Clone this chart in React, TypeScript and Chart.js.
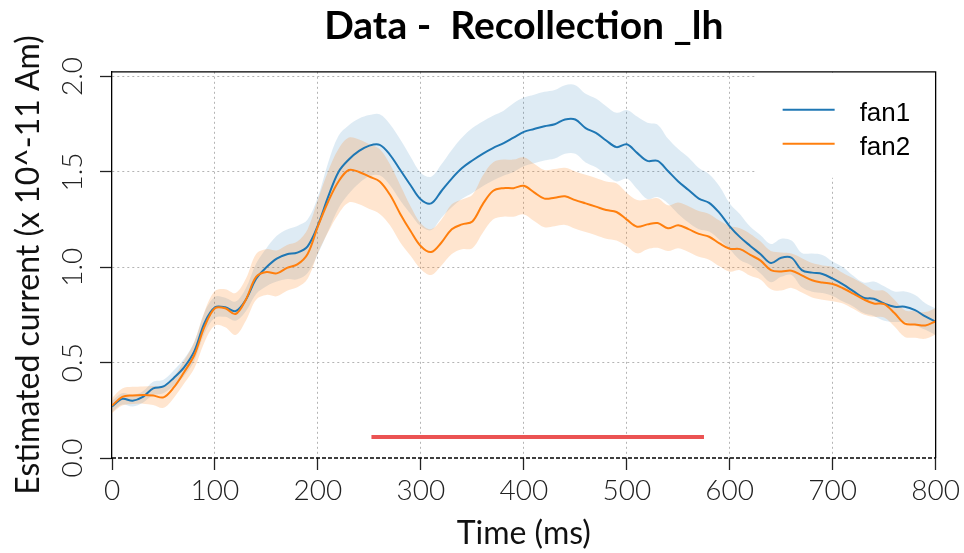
import React, { useEffect, useRef } from "react";
import { Chart, registerables } from "chart.js";

Chart.register(...registerables);

// ---- data ----
const TIME = [
  0, 10, 20, 30, 40, 50, 60, 70, 80, 90, 100, 110, 120, 130, 140, 150, 160, 170, 180, 190,
  200, 210, 220, 230, 240, 250, 260, 270, 280, 290, 300, 310, 320, 330, 340, 350, 360, 370, 380, 390,
  400, 410, 420, 430, 440, 450, 460, 470, 480, 490, 500, 510, 520, 530, 540, 550, 560, 570, 580, 590,
  600, 610, 620, 630, 640, 650, 660, 670, 680, 690, 700, 710, 720, 730, 740, 750, 760, 770, 780, 790, 800,
];

const FAN1 = [
  0.27, 0.31, 0.3, 0.32, 0.365, 0.375, 0.42, 0.475, 0.56, 0.71, 0.79, 0.79, 0.77, 0.83, 0.94, 1.0, 1.045, 1.068, 1.077, 1.11,
  1.22, 1.37, 1.5, 1.565, 1.61, 1.638, 1.642, 1.59, 1.51, 1.43, 1.355, 1.335, 1.4, 1.465, 1.52, 1.56, 1.595, 1.625, 1.65, 1.68,
  1.71, 1.725, 1.74, 1.75, 1.775, 1.775, 1.73, 1.705, 1.665, 1.63, 1.645, 1.6, 1.558, 1.558, 1.505, 1.45, 1.405, 1.36, 1.338, 1.285,
  1.215, 1.158, 1.112, 1.068, 1.022, 1.05, 1.05, 0.985, 0.972, 0.965, 0.94, 0.91, 0.875, 0.84, 0.835, 0.81, 0.793, 0.793, 0.775, 0.742, 0.715,
];

const FAN1_SE = [
  0.03, 0.03, 0.03, 0.03, 0.035, 0.035, 0.04, 0.045, 0.05, 0.055, 0.055, 0.05, 0.05, 0.06, 0.08, 0.1, 0.12, 0.13, 0.14, 0.14,
  0.15, 0.18, 0.19, 0.18, 0.17, 0.16, 0.16, 0.16, 0.16, 0.15, 0.14, 0.14, 0.14, 0.15, 0.16, 0.17, 0.17, 0.17, 0.17, 0.18,
  0.18, 0.18, 0.18, 0.18, 0.18, 0.18, 0.18, 0.18, 0.18, 0.18, 0.18, 0.19, 0.2, 0.19, 0.17, 0.17, 0.17, 0.16, 0.15, 0.14,
  0.12, 0.12, 0.1, 0.1, 0.1, 0.1, 0.09, 0.09, 0.1, 0.1, 0.09, 0.09, 0.08, 0.08, 0.09, 0.09, 0.08, 0.08, 0.08, 0.07, 0.07,
];

const FAN2 = [
  0.275, 0.32, 0.328, 0.33, 0.328, 0.318, 0.37, 0.45, 0.54, 0.69, 0.785, 0.785, 0.755, 0.83, 0.95, 0.975, 0.968, 0.997, 1.015, 1.07,
  1.215, 1.345, 1.45, 1.51, 1.5, 1.475, 1.45, 1.38, 1.28, 1.19, 1.11, 1.08, 1.13, 1.2, 1.225, 1.24, 1.33, 1.4, 1.415, 1.415,
  1.427, 1.393, 1.36, 1.365, 1.372, 1.352, 1.335, 1.318, 1.3, 1.29, 1.25, 1.213, 1.225, 1.232, 1.205, 1.22, 1.2, 1.175, 1.16, 1.125,
  1.097, 1.095, 1.065, 1.035, 0.985, 0.978, 0.982, 0.958, 0.932, 0.92, 0.912, 0.89, 0.862, 0.832, 0.81, 0.807, 0.76, 0.705, 0.7, 0.695, 0.717,
];

const FAN2_SE = [
  0.04, 0.045, 0.045, 0.045, 0.05, 0.055, 0.055, 0.06, 0.07, 0.08, 0.09, 0.1, 0.11, 0.11, 0.12, 0.12, 0.12, 0.12, 0.12, 0.13,
  0.14, 0.16, 0.17, 0.17, 0.17, 0.17, 0.17, 0.16, 0.15, 0.13, 0.12, 0.12, 0.12, 0.13, 0.13, 0.14, 0.15, 0.15, 0.15, 0.15,
  0.15, 0.15, 0.15, 0.15, 0.15, 0.15, 0.15, 0.15, 0.15, 0.15, 0.14, 0.14, 0.13, 0.13, 0.12, 0.12, 0.12, 0.12, 0.12, 0.12,
  0.12, 0.11, 0.11, 0.1, 0.1, 0.1, 0.09, 0.09, 0.09, 0.09, 0.09, 0.08, 0.08, 0.08, 0.07, 0.07, 0.07, 0.07, 0.07, 0.07, 0.07,
];

const SERIES_NAMES = ["fan1", "fan2"];
const SIG_START = 252;
const SIG_END = 575;
const SIG_LEVEL = 0.11;
const X_TICKS = [0, 100, 200, 300, 400, 500, 600, 700, 800];
const Y_TICKS = [0, 0.5, 1.0, 1.5, 2.0];

const TITLE = "Data -  Recollection _lh";
const X_TITLE = "Time (ms)";
const Y_TITLE = "Estimated current (x 10^-11 Am)";

// ---- styles ----
const BLUE = "#1f77b4";
const ORANGE = "#ff7f0e";
const BLUE_FILL = "rgba(31,119,180,0.15)";
const ORANGE_FILL = "rgba(255,127,14,0.2)";
const RED = "#eb5353";
const GRID = "#b4b4b4";
const CLEAR = "rgba(0,0,0,0)";

export default function App() {
  const ref = useRef<HTMLCanvasElement | null>(null);

  useEffect(() => {
    if (!ref.current) return;
    const band = (vals: number[], se: number[], sign: number) =>
      TIME.map((t, i) => ({ x: t, y: vals[i] + sign * se[i] }));
    const line = (vals: number[]) => TIME.map((t, i) => ({ x: t, y: vals[i] }));

    const deco = {
      id: "deco",
      beforeDatasetsDraw(chart: any) {
        const { ctx, chartArea: a } = chart;
        ctx.save();
        ctx.fillStyle = "#ffffff";
        ctx.fillRect(a.right - 179, a.top + 1, 178, 105);
        ctx.restore();
      },
      afterDatasetsDraw(chart: any) {
        const { ctx, chartArea: a } = chart;
        ctx.save();
        const colors = [BLUE, ORANGE];
        const rows = [38, 72];
        SERIES_NAMES.forEach((name, i) => {
          const y = a.top + rows[i];
          ctx.strokeStyle = colors[i];
          ctx.lineWidth = 2;
          ctx.beginPath();
          ctx.moveTo(a.right - 153, y);
          ctx.lineTo(a.right - 101, y);
          ctx.stroke();
          ctx.fillStyle = "#000";
          ctx.font = '26px "Liberation Sans", Arial, sans-serif';
          ctx.textBaseline = "alphabetic";
          ctx.textAlign = "left";
          ctx.fillText(name, a.right - 76, y + 11);
        });
        // top and right spines
        ctx.strokeStyle = "#000";
        ctx.lineWidth = 1.3;
        ctx.beginPath();
        ctx.moveTo(a.left, a.top);
        ctx.lineTo(a.right, a.top);
        ctx.lineTo(a.right, a.bottom);
        ctx.stroke();
        ctx.restore();
      },
    };

    const chart = new Chart(ref.current, {
      type: "line",
      data: {
        datasets: [
          { label: "fan1 lower", data: band(FAN1, FAN1_SE, -1), borderColor: CLEAR, borderWidth: 0, pointRadius: 0, fill: false, order: 9 },
          { label: "fan1 upper", data: band(FAN1, FAN1_SE, 1), borderColor: CLEAR, borderWidth: 0, pointRadius: 0, fill: "-1", backgroundColor: BLUE_FILL, order: 8 },
          { label: "fan2 lower", data: band(FAN2, FAN2_SE, -1), borderColor: CLEAR, borderWidth: 0, pointRadius: 0, fill: false, order: 7 },
          { label: "fan2 upper", data: band(FAN2, FAN2_SE, 1), borderColor: CLEAR, borderWidth: 0, pointRadius: 0, fill: "-1", backgroundColor: ORANGE_FILL, order: 6 },
          { label: "zero", data: [{ x: X_TICKS[0], y: 0 }, { x: X_TICKS[X_TICKS.length - 1], y: 0 }], borderColor: "#000", borderWidth: 1.5, borderDash: [4, 2], pointRadius: 0, tension: 0, fill: false, clip: 5, order: 5 },
          { label: SERIES_NAMES[0], data: line(FAN1), borderColor: BLUE, borderWidth: 2, pointRadius: 0, fill: false, order: 3 },
          { label: SERIES_NAMES[1], data: line(FAN2), borderColor: ORANGE, borderWidth: 2, pointRadius: 0, fill: false, order: 2 },
          { label: "significant", data: [{ x: SIG_START, y: SIG_LEVEL }, { x: SIG_END, y: SIG_LEVEL }], borderColor: RED, borderWidth: 4, pointRadius: 0, tension: 0, fill: false, order: 1 },
        ],
      },
      options: {
        responsive: false,
        animation: false,
        devicePixelRatio: 1,
        layout: { padding: { left: 0, right: 28, top: 0, bottom: 0 } },
        elements: { point: { radius: 0 }, line: { tension: 0.35 } },
        plugins: {
          legend: { display: false },
          tooltip: { enabled: false },
          title: {
            display: true,
            text: TITLE,
            fullSize: false,
            color: "#000",
            font: { family: "Lato", size: 39, weight: "bold" },
            padding: { top: 3, bottom: 22 },
          },
        },
        scales: {
          x: {
            type: "linear",
            min: 0,
            max: 800,
            afterBuildTicks: (s: any) => {
              s.ticks = X_TICKS.map((v) => ({ value: v }));
            },
            afterFit: (s: any) => {
              s.height = 95;
            },
            grid: {
              color: (c: any) => (c.tick && (c.tick.value === 0 || c.tick.value === 800) ? CLEAR : GRID),
              lineWidth: 1,
              tickLength: 12,
              tickColor: "#222",
              tickWidth: 1.3,
            },
            border: { display: false, dash: [2, 3] },
            ticks: {
              color: "#222",
              font: { family: "Lato", size: 28, weight: "300" },
              padding: 4,
              maxRotation: 0,
              minRotation: 0,
              autoSkip: false,
            },
            title: {
              display: true,
              text: X_TITLE,
              color: "#111",
              font: { family: "Lato", size: 32 },
              padding: { top: 0, bottom: 0 },
            },
          },
          y: {
            type: "linear",
            min: 0,
            max: 2.025,
            afterBuildTicks: (s: any) => {
              s.ticks = Y_TICKS.map((v) => ({ value: v }));
            },
            afterFit: (s: any) => {
              s.width = 112;
            },
            grid: {
              color: (c: any) => (c.tick && c.tick.value === 0 ? CLEAR : GRID),
              lineWidth: 1,
              tickLength: 12,
              tickColor: "#222",
              tickWidth: 1.3,
            },
            border: { display: true, color: "#000", width: 1.3, dash: [2, 3] },
            ticks: {
              color: "#222",
              font: { family: "Lato", size: 28, weight: "300" },
              padding: 8,
              minRotation: 90,
              maxRotation: 90,
              crossAlign: "center",
              callback: (v: any) => Number(v).toFixed(1),
            },
            title: {
              display: true,
              text: Y_TITLE,
              color: "#111",
              font: { family: "Lato", size: 32 },
              padding: { top: 9, bottom: 0 },
            },
          },
        },
      },
      plugins: [deco],
    } as any);

    return () => chart.destroy();
  }, []);

  return (
    <div style={{ position: "absolute", left: 0, top: 0, width: 964, height: 553, background: "#fff" }}>
      <canvas ref={ref} width={964} height={553} style={{ display: "block", width: 964, height: 553 }} />
    </div>
  );
}
